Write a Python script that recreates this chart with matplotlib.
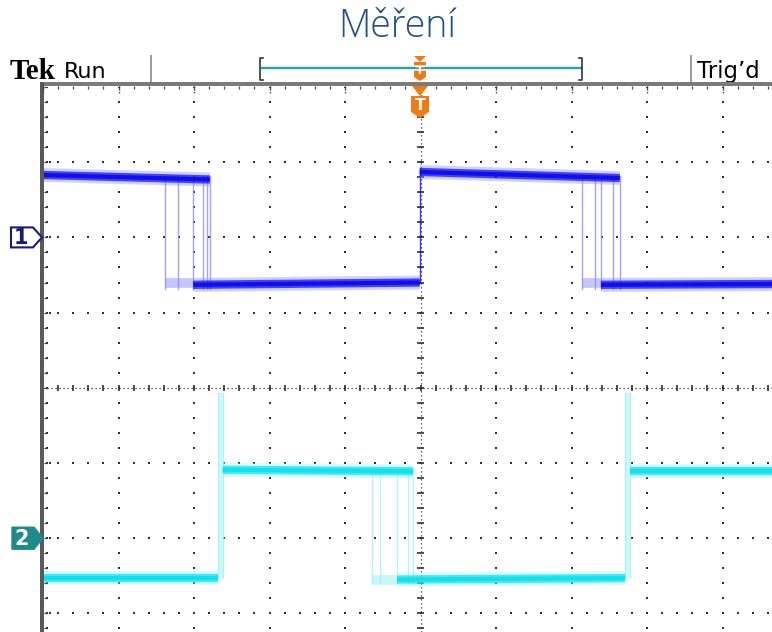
import numpy as np
import matplotlib.pyplot as plt
from matplotlib.patches import Polygon, Rectangle

# -------------------------------
# Screen geometry (divisions)
# -------------------------------
W, H = 772, 632
px_x, px_y = 75.5, 75.2        # pixels per division
left_px, top_px = 43, 87        # graticule top-left corner in the picture
x_max = (W - left_px) / px_x
y_top = 4.0
y_bot = y_top - (H - top_px) / px_y

# -------------------------------
# Channel 1 (blue), in divisions
# -------------------------------
ch1_hi_x = [[0.0, 2.21], [4.99, 7.64]]
ch1_hi_y = [[2.83, 2.77], [2.87, 2.79]]
ch1_lo_x = [[1.99, 4.99], [7.39, 9.66]]
ch1_lo_y = [[1.37, 1.40], [1.37, 1.38]]
ch1_ghost_lo_x = [[1.62, 1.99], [7.14, 7.39]]
ch1_ghost_lo_y = [1.40, 1.39]
ch1_falls = [1.62, 1.79, 1.99, 2.12, 2.17, 2.21, 7.14, 7.31, 7.39, 7.55, 7.64]
ch1_rises = [4.99]
ch1_ref = 2.0

# -------------------------------
# Channel 2 (cyan), in divisions
# -------------------------------
ch2_lo_x = [[0.0, 2.32], [4.69, 7.71]]
ch2_lo_y = [[-2.53, -2.53], [-2.55, -2.53]]
ch2_hi_x = [[2.38, 4.90], [7.78, 9.66]]
ch2_hi_y = [[-1.09, -1.11], [-1.10, -1.10]]
ch2_ghost_lo_x = [[4.36, 4.69]]
ch2_ghost_lo_y = [-2.55]
ch2_falls = [4.36, 4.46, 4.69, 4.83, 4.90]
ch2_spikes = [[2.32, 2.38], [7.71, 7.78]]
ch2_spike_top = -0.07
ch2_ref = -2.0

blue, blue_lt = "#0808f0", "#8c8cff"
cyan, cyan_lt = "#08e2ee", "#a0f2f6"
orange = "#f07a14"
grid_c = "#303030"

fig = plt.figure(figsize=(W / 100, H / 100), dpi=100)
fig.patch.set_facecolor("white")

ax = fig.add_axes([left_px / W, 0, (W - left_px) / W, (H - top_px) / H])
ax.set_xlim(0, x_max)
ax.set_ylim(y_bot, y_top)
ax.axis("off")

# -------------------------------
# Graticule
# -------------------------------
minor = np.arange(0, 10.01, 0.2)
vminor = np.arange(-4, 4.01, 0.2)
for xv in range(1, 10):
    if xv == 5:
        continue
    ax.scatter(np.full(vminor.size, xv), vminor, s=1.8, marker="s", color=grid_c, lw=0, zorder=1)
for yv in range(-3, 4):
    if yv == 0:
        continue
    ax.scatter(minor, np.full(minor.size, yv), s=1.8, marker="s", color=grid_c, lw=0, zorder=1)
    ax.scatter([0.05, 0.09], [yv, yv], s=1.8, marker="s", color=grid_c, lw=0, zorder=1)

# centre cross: dense dots + ticks
ax.axhline(0, color=grid_c, lw=0.9, ls=(0, (1, 2.2)), zorder=1)
ax.axvline(5, color=grid_c, lw=0.9, ls=(0, (1, 2.2)), zorder=1)
ax.errorbar(minor, np.zeros(minor.size), yerr=0.04, fmt="none", ecolor=grid_c, elinewidth=1.2, zorder=1)
ax.errorbar(np.full(vminor.size, 5.0), vminor, xerr=0.04, fmt="none", ecolor=grid_c, elinewidth=1.2, zorder=1)

# left edge ticks
ax.scatter(np.full(vminor.size, 0.05), vminor, s=1.8, marker="s", color=grid_c, lw=0, zorder=1)


# -------------------------------
# Traces
# -------------------------------
def band(xs, ys, c, c_lt, z):
    ax.plot(xs, ys, color=c_lt, lw=10, alpha=0.4, solid_capstyle="butt", zorder=z)
    ax.plot(xs, ys, color=c, lw=6.0, alpha=0.7, solid_capstyle="butt", zorder=z + 0.1)
    ax.plot(xs, ys, color=c, lw=3.0, alpha=0.9, solid_capstyle="butt", zorder=z + 0.2)


def edges(xs, y0, y1, c_lt, z):
    for xv in xs:
        ax.plot([xv, xv], [y0, y1], color=c_lt, lw=1.0, alpha=0.8, zorder=z)


# channel 1
edges(ch1_falls, ch1_lo_y[0][0] - 0.05, ch1_hi_y[0][1] + 0.05, blue_lt, 2)
edges(ch1_rises, ch1_lo_y[0][1], ch1_hi_y[1][0] + 0.05, blue, 2)
for xs, yv in zip(ch1_ghost_lo_x, ch1_ghost_lo_y):
    ax.plot(xs, [yv, yv], color=blue_lt, lw=7, alpha=0.5, solid_capstyle="butt", zorder=2)
for xs, ys in zip(ch1_hi_x + ch1_lo_x, ch1_hi_y + ch1_lo_y):
    band(xs, ys, blue, blue_lt, 3)

# channel 2
edges(ch2_falls, ch2_lo_y[1][0] - 0.05, ch2_hi_y[0][1] + 0.05, cyan_lt, 2)
for s0, s1 in ch2_spikes:
    ax.fill_betweenx([ch2_lo_y[0][0], ch2_spike_top], s0, s1, color=cyan_lt, alpha=0.5, lw=0, zorder=2)
    edges([s0, s1], ch2_lo_y[0][0], ch2_spike_top, cyan_lt, 2)
for xs, yv in zip(ch2_ghost_lo_x, ch2_ghost_lo_y):
    ax.plot(xs, [yv, yv], color=cyan_lt, lw=7, alpha=0.6, solid_capstyle="butt", zorder=2)
for xs, ys in zip(ch2_hi_x + ch2_lo_x, ch2_hi_y + ch2_lo_y):
    band(xs, ys, cyan, cyan_lt, 3)

# -------------------------------
# Header / overlay in pixel space
# -------------------------------
hx = fig.add_axes([0, 0, 1, 1], facecolor="none")
hx.set_xlim(0, W)
hx.set_ylim(H, 0)
hx.axis("off")

# borders
hx.add_patch(Rectangle((40, 82), W - 40, 4, color="#7a7a7a", lw=0, zorder=5))
hx.add_patch(Rectangle((40, 82), 4, H - 82, color="#5a5a5a", lw=0, zorder=5))
tx = left_px + minor * px_x
hx.vlines(tx, 86, 89, color="#444444", lw=0.9, zorder=5)
hx.vlines(left_px + np.arange(0, 11) * px_x, 86, 93, color="#444444", lw=1.0, ls=(0, (1, 1)), zorder=5)
ty = top_px + np.arange(0, 8.01, 0.2) * px_y
hx.hlines(ty, 44, 47, color="#444444", lw=0.9, zorder=5)

# top bar
hx.vlines([151, 691], 55, 82, color="#8a8a8a", lw=1.2)
hx.text(10, 79, "Tek", fontsize=21, fontweight="bold", family="Liberation Serif", color="black")
hx.text(64, 78, "Run", fontsize=16, family="DejaVu Sans", color="black")
hx.text(697, 78, "Trig\u2019d", fontsize=16.5, family="DejaVu Sans", color="black")
hx.plot([261, 582], [68, 68], color="#d8f4f4", lw=4, solid_capstyle="butt")
hx.plot([261, 582], [67.5, 67.5], color="#3a9898", lw=1.4, solid_capstyle="butt")
hx.plot([263, 260, 260, 263], [58, 58, 80, 80], color="#333333", lw=1.2)
hx.plot([579, 582, 582, 579], [58, 58, 80, 80], color="#333333", lw=1.2)

# small trigger position marker in the bar
hx.add_patch(Polygon([[414, 56], [426, 56], [420, 62]], color=orange, lw=0))
hx.add_patch(Polygon([[414, 62], [426, 62], [426, 77], [420, 81], [414, 77]], color=orange, lw=0))
hx.text(420, 71, "T", fontsize=8, color="white", ha="center", va="center", fontweight="bold")

# trigger marker under the top edge
hx.add_patch(Polygon([[412, 86], [428, 86], [420, 96]], color=orange, lw=0, zorder=6))
hx.add_patch(Polygon([[411, 96], [429, 96], [429, 112], [420, 118], [411, 112]], color=orange, lw=0, zorder=6))
hx.text(420, 106, "T", fontsize=11, color="white", ha="center", va="center", fontweight="bold", zorder=7)

# channel markers (at ground reference levels)
y1 = top_px + (y_top - ch1_ref) * px_y
hx.add_patch(Polygon([[11, y1 - 10], [33, y1 - 10], [42, y1], [33, y1 + 10], [11, y1 + 10]],
                     facecolor="white", edgecolor="#1a1a7a", lw=1.5, zorder=6))
hx.text(21, y1 + 1, "1", fontsize=15, fontweight="bold", color="#1a1a7a", ha="center", va="center", zorder=7)
y2 = top_px + (y_top - ch2_ref) * px_y
hx.add_patch(Polygon([[12, y2 - 11], [34, y2 - 11], [43, y2], [34, y2 + 11], [12, y2 + 11]],
                     facecolor="#1f8a8c", edgecolor="#1f8a8c", lw=1, zorder=6))
hx.text(22, y2 + 1, "2", fontsize=15, fontweight="bold", color="white", ha="center", va="center", zorder=7)

# title
fig.text(397 / W, 1 - 27 / H, "M\u011b\u0159en\u00ed", fontsize=27, family="Open Sans", fontweight="light",
         color="#25517d", ha="center", va="center")

plt.savefig("out.png", dpi=100)
